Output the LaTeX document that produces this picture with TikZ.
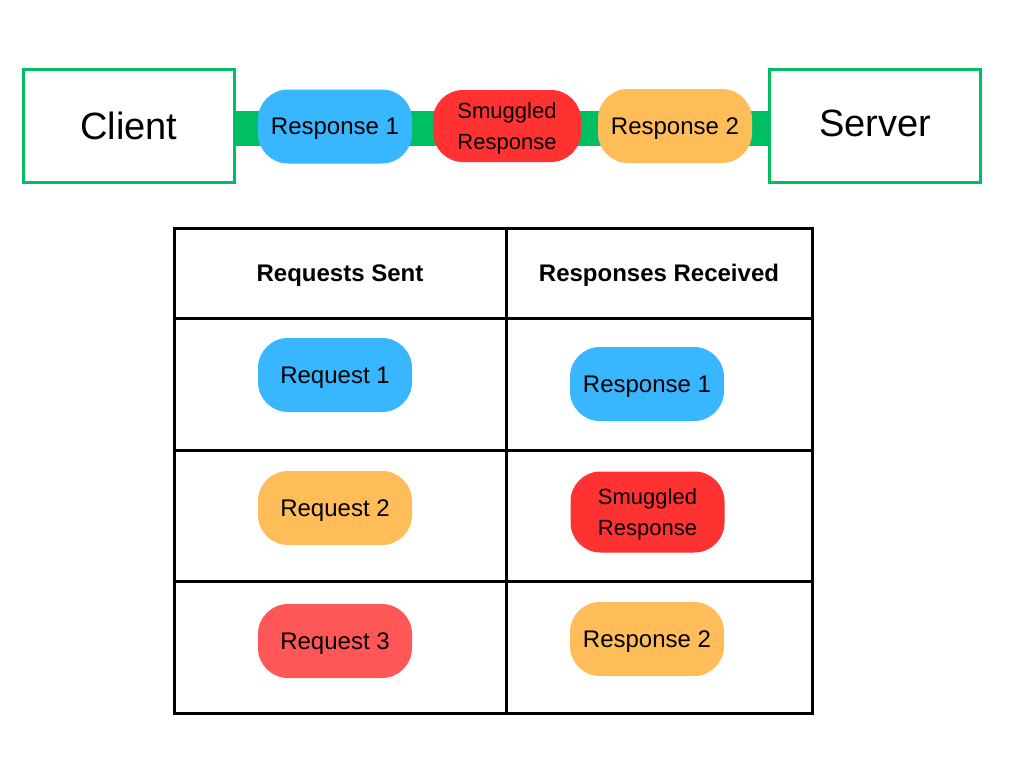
\documentclass[tikz,border=0pt]{standalone}
\usepackage{fontspec}
\setmainfont{Liberation Sans}
\definecolor{boxgreen}{HTML}{00BF63}
\definecolor{pblue}{HTML}{38B6FF}
\definecolor{pred}{HTML}{FF3131}
\definecolor{porange}{HTML}{FFBD59}
\definecolor{psalmon}{HTML}{FF5757}
\tikzset{
  endbox/.style={draw=boxgreen, line width=3pt, fill=white, minimum width=211pt, minimum height=113pt, inner sep=0pt, text depth=0pt, font=\fontsize{38}{44}\selectfont},
  pill/.style={rounded corners=30pt, minimum width=154pt, minimum height=74pt, inner sep=0pt, align=center, text depth=0pt, font=\fontsize{24}{29}\selectfont},
  smallpill/.style={pill, font=\fontsize{22}{31}\selectfont},
  hdr/.style={font=\bfseries\fontsize{24}{29}\selectfont, text depth=0pt},
  grid/.style={line width=3pt, black}
}
\begin{document}
\begin{tikzpicture}[x=1pt,y=-1pt]
\useasboundingbox (0,0) rectangle (1024,768);
\fill[white] (0,0) rectangle (1024,768);
% endpoints
\node[endbox] (client) at (129,126) {Client};
\node[endbox] (server) at (875,126) {\raisebox{5pt}{Server}};
\draw[boxgreen, line width=35pt] ([yshift=-2pt]client.east) -- ([yshift=-2pt]server.west);
\node[endbox, fill=none] at (client) {};
\node[endbox, fill=none] at (server) {};
% top pills
\node[pill, fill=pblue] (r1) at (335,126.5) {Response 1};
\node[smallpill, fill=pred, minimum width=148pt, minimum height=72pt] (sm) at (507,126) {Smuggled\\Response};
\node[pill, fill=porange] (r2) at (675,126) {Response 2};
% table
\draw[grid] (174,228) rectangle (812,713);
\draw[grid] (506,228) -- (506,713);
\draw[grid] (174,318) -- (812,318);
\draw[grid] (174,450) -- (812,450);
\draw[grid] (174,581) -- (812,581);
\node[hdr] (h1) at (340,273) {Requests Sent};
\node[hdr] (h2) at (659,273) {Responses Received};
\node[pill, fill=pblue] (q1) at (335,375) {Request 1};
\node[pill, fill=pblue] (s1) at (647,384) {Response 1};
\node[pill, fill=porange] (q2) at (335,508) {Request 2};
\node[smallpill, fill=pred, minimum height=81pt] (s2) at (647.5,512) {Smuggled\\Response};
\node[pill, fill=psalmon] (q3) at (335,641) {Request 3};
\node[pill, fill=porange] (s3) at (647,639) {Response 2};
\end{tikzpicture}
\end{document}
